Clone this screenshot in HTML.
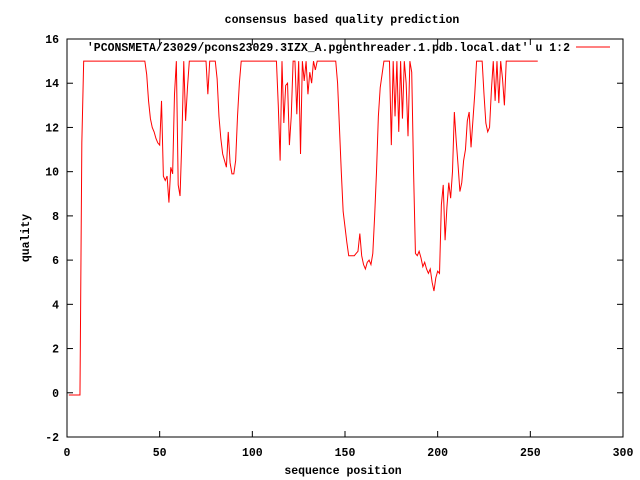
<!DOCTYPE html>
<html><head><meta charset="utf-8">
<style>
html,body{margin:0;padding:0;background:#fff;}
svg{display:block;}
text{font-family:"Liberation Mono",monospace;font-size:11.5px;font-weight:bold;fill:#000;}
</style></head>
<body>
<svg id="chart" width="640" height="480" viewBox="0 0 640 480">
<rect x="0" y="0" width="640" height="480" fill="#fff"/>
<text x="342" y="23" text-anchor="middle">consensus based quality prediction</text>
<text x="343" y="474" text-anchor="middle">sequence position</text>
<text transform="translate(29,238) rotate(-90)" text-anchor="middle">quality</text>
<g id="axes"></g>
<g id="series"></g>
<rect x="67" y="39" width="556" height="398" fill="none" stroke="#000" stroke-width="1"/>
<g>
<text x="570" y="51" text-anchor="end">'PCONSMETA/23029/pcons23029.3IZX_A.pgenthreader.1.pdb.local.dat' u 1:2</text>
<line x1="576" y1="47" x2="610" y2="47" stroke="#f00" stroke-width="1"/>
</g>
</svg>
<script>
const xTicks = [0, 50, 100, 150, 200, 250, 300];
const yTicks = [-2, 0, 2, 4, 6, 8, 10, 12, 14, 16];
const quality = [
-0.1,-0.1,-0.1,-0.1,-0.1,-0.1,-0.1,11.3,
15,15,15,15,15,15,15,15,15,15,
15,15,15,15,15,15,15,15,15,15,
15,15,15,15,15,15,15,15,15,15,
15,15,15,15,
14.4,13.2,12.4,12.0,11.8,11.5,11.3,11.2,13.2,9.8,
9.6,9.8,8.6,10.2,9.9,13.5,15,9.4,8.9,11.5,
15,12.3,13.8,15,
15,15,15,15,15,15,15,15,15,
13.5,15,15,15,15,14.2,12.5,11.5,10.8,10.5,
10.2,11.8,10.4,9.9,9.9,10.5,12.5,14,15,
15,15,15,15,15,15,15,15,15,15,
15,15,15,15,15,15,15,15,15,
13,10.5,15,12.2,13.9,14.0,11.2,12.5,15,15,
12.6,15,10.8,15,14.1,15,13.5,14.5,14,15,
14.6,15,
15,15,15,15,15,15,15,15,15,15,
14,12,10,8.2,7.5,6.8,6.2,6.2,6.2,6.2,
6.3,6.4,7.2,6.2,5.8,5.6,5.9,6.0,5.8,6.3,
8,10,12.5,13.8,14.4,15,15,15,15,11.2,
15,12.5,15,11.8,15,12.4,15,14,11.6,15,
14.5,10,6.3,6.2,6.4,6.1,5.7,5.9,5.6,5.4,
5.6,5.0,4.6,5.2,5.5,5.4,8.5,9.4,6.9,8.4,
9.5,8.8,10,12.7,11.4,10.3,9.1,9.5,10.5,11,
12.3,12.7,11.1,12.3,13.5,15,15,15,15,13.5,
12.2,11.8,12,13.7,15,13.2,15,13.1,15,14.2,
13.0,15,
15,15,15,15,15,15,15,15,15,15,
15,15,15,15,15,15,15
];
const X0=67,X1=623,Y0=437,Y1=39;
function xs(v){return X0+(v-0)/(300-0)*(X1-X0);}
function ys(v){return Y0-(v-(-2))/(16-(-2))*(Y0-Y1);}
const NS="http://www.w3.org/2000/svg";
const axes=document.getElementById('axes');
xTicks.forEach(t=>{
  const x=xs(t);
  [[Y0,Y0-6],[Y1,Y1+6]].forEach(p=>{
    const l=document.createElementNS(NS,'line');
    l.setAttribute('x1',x);l.setAttribute('x2',x);l.setAttribute('y1',p[0]);l.setAttribute('y2',p[1]);
    l.setAttribute('stroke','#000');
    
    
    axes.appendChild(l);
  });
  const tx=document.createElementNS(NS,'text');
  tx.setAttribute('x',x);tx.setAttribute('y',Y0+19);tx.setAttribute('text-anchor','middle');
  tx.textContent=t;
  
  
  axes.appendChild(tx);
});
yTicks.forEach(t=>{
  const y=ys(t);
  [[X0,X0+6],[X1,X1-6]].forEach(p=>{
    const l=document.createElementNS(NS,'line');
    l.setAttribute('x1',p[0]);l.setAttribute('x2',p[1]);l.setAttribute('y1',y);l.setAttribute('y2',y);
    l.setAttribute('stroke','#000');
    
    
    axes.appendChild(l);
  });
  const tx=document.createElementNS(NS,'text');
  tx.setAttribute('x',X0-8);tx.setAttribute('y',y+4);tx.setAttribute('text-anchor','end');
  tx.textContent=t;
  
  
  axes.appendChild(tx);
});
const pts=quality.map((v,i)=>xs(i+1).toFixed(2)+','+ys(v).toFixed(2)).join(' ');
const pl=document.createElementNS(NS,'polyline');
pl.setAttribute('points',pts);
pl.setAttribute('fill','none');
pl.setAttribute('stroke','#f00');
pl.setAttribute('stroke-width','1');


document.getElementById('series').appendChild(pl);
</script>
</body></html>
